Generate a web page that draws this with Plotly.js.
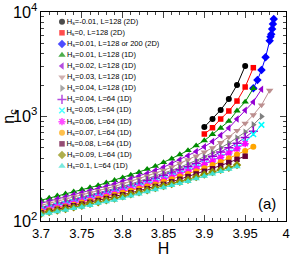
<!DOCTYPE html>
<html><head><meta charset="utf-8">
<script src="https://cdn.plot.ly/plotly-3.0.1.min.js"></script>
<style>html,body{margin:0;padding:0;background:#fff}</style>
</head><body><div id="chart" style="width:291px;height:257px"></div>
<script>
// H grids
const H_to394 = [3.70,3.71,3.72,3.73,3.74,3.75,3.76,3.77,3.78,3.79,3.80,3.81,3.82,3.83,3.84,3.85,3.86,3.87,3.88,3.89,3.90,3.91,3.92,3.93,3.94];
const H_to395 = [3.70,3.71,3.72,3.73,3.74,3.75,3.76,3.77,3.78,3.79,3.80,3.81,3.82,3.83,3.84,3.85,3.86,3.87,3.88,3.89,3.90,3.91,3.92,3.93,3.94,3.95];
const H_to396 = [3.70,3.71,3.72,3.73,3.74,3.75,3.76,3.77,3.78,3.79,3.80,3.81,3.82,3.83,3.84,3.85,3.86,3.87,3.88,3.89,3.90,3.91,3.92,3.93,3.94,3.95,3.96];
const H_to397 = [3.70,3.71,3.72,3.73,3.74,3.75,3.76,3.77,3.78,3.79,3.80,3.81,3.82,3.83,3.84,3.85,3.86,3.87,3.88,3.89,3.90,3.91,3.92,3.93,3.94,3.95,3.96,3.97];
const H_to398 = [3.70,3.71,3.72,3.73,3.74,3.75,3.76,3.77,3.78,3.79,3.80,3.81,3.82,3.83,3.84,3.85,3.86,3.87,3.88,3.89,3.90,3.91,3.92,3.93,3.94,3.95,3.96,3.97,3.98];
const H_black = [3.90,3.91,3.92,3.93,3.94,3.95];
const H_red = [3.90,3.91,3.92,3.93,3.94,3.95,3.96];
const H_blue = [3.96,3.965,3.97,3.975,3.98,3.981,3.982,3.983,3.984,3.985];

// n_c values
const n_black = [793,946,1153,1471,2002,3041];
const n_red = [680,781,946,1129,1406,1915,2931];
const n_blue = [1862,2234,2786,3684,5312,5803,6120,6874,7678,8570];
const n_green = [158,166,174,182,191,200,209,219,232,245,260,275,292,313,335,363,394,432,473,525,589,676,776,902,1135,1380,1862];
const n_violet = [148,155,162,170,178,186,195,204,214,226,240,254,269,285,305,327,355,385,422,462,513,575,661,776,944,1148,1380,1820];
const n_brown = [141,148,155,162,170,178,186,195,204,214,226,240,254,269,285,305,327,355,385,417,457,501,562,638,733,861,1035,1288,1778];
const n_grey = [135,141,148,155,162,170,178,186,195,204,214,226,240,254,269,285,305,327,351,380,412,452,501,556,624,708,832,1000];
const n_plus = [132,138,145,150,157,164,172,180,188,197,207,216,229,243,257,272,288,309,331,355,385,417,457,501,556,631,724];
const n_cyan = [129,133,140,145,151,158,164,172,180,188,197,207,216,226,240,254,269,285,305,327,351,380,412,452,501,569,676,832];
const n_magenta = [126,130,136,141,148,155,160,168,176,184,193,202,211,221,234,248,263,279,299,320,347,376,407,447,490,550];
const n_orange = [123,127,132,138,143,150,155,162,170,178,186,195,204,214,224,237,251,266,282,299,320,343,367,398,432,468,513];
const n_maroon = [120,124,129,135,140,145,151,157,164,172,178,186,195,204,214,224,237,251,266,282,299,316,339,363,389,417];
const n_olive = [117,122,126,130,135,140,146,151,158,164,172,180,188,197,207,216,226,237,248,263,279,295,309,324,343];
const n_turq = [115,119,123,127,132,136,141,148,153,158,166,174,182,191,200,209,219,229,240,254,269,282,299,313,331];

const labels = [
 'H<sub>s</sub>=-0.01, L=128 (2D)',
 'H<sub>s</sub>=0, L=128 (2D)',
 'H<sub>s</sub>=0.01, L=128 or 200 (2D)',
 'H<sub>s</sub>=0.01, L=128 (1D)',
 'H<sub>s</sub>=0.02, L=128 (1D)',
 'H<sub>s</sub>=0.03, L=128 (1D)',
 'H<sub>s</sub>=0.04, L=128 (1D)',
 'H<sub>s</sub>=0.04, L=64 (1D)',
 'H<sub>s</sub>=0.05, L=64 (1D)',
 'H<sub>s</sub>=0.06, L=64 (1D)',
 'H<sub>s</sub>=0.07, L=64 (1D)',
 'H<sub>s</sub>=0.08, L=64 (1D)',
 'H<sub>s</sub>=0.09, L=64 (1D)',
 'H<sub>s</sub>=0.1, L=64 (1D)'
];
const xs = [H_black,H_red,H_blue,H_to396,H_to397,H_to398,H_to397,H_to396,H_to397,H_to395,H_to396,H_to395,H_to394,H_to394];
const ys = [n_black,n_red,n_blue,n_green,n_violet,n_brown,n_grey,n_plus,n_cyan,n_magenta,n_orange,n_maroon,n_olive,n_turq];
const colors = ['#000000','#ff0000','#0000ff','#008b00','#9400d3','#bc8f8f','#808080','#9400d3','#00ffff','#ff00ff','#ffa500','#670038','#8b8b00','#40e0d0'];
const symbols = ['circle','square','diamond','triangle-up','triangle-left','triangle-down','triangle-right','cross-thin-open','x-thin-open','asterisk-open','circle','square','diamond','triangle-up'];
const sizes = [6,5.5,6.5,6.5,6.5,6.5,6.5,6.5,5.5,6,6,5.5,6.5,6.5];

const traces = [];
for (let i = 0; i < ys.length; i++) {
  const open = symbols[i].endsWith('-open');
  traces.push({
    x: xs[i], y: ys[i], type: 'scatter', mode: 'lines+markers', showlegend: false,
    line: {color: colors[i], width: 1},
    marker: {symbol: symbols[i], size: sizes[i], color: colors[i],
             line: {color: colors[i], width: open ? 1.5 : 0}},
    cliponaxis: true, hoverinfo: 'skip'
  });
}
// legend key built from the series lists
const keyIndex = labels.map((_, i) => i);
traces.push({
  x: labels.map(() => 0), y: keyIndex, xaxis: 'x2', yaxis: 'y2', type: 'scatter',
  mode: 'markers+text', showlegend: false, hoverinfo: 'skip', cliponaxis: false,
  text: labels, textposition: 'middle right',
  textfont: {family: 'Liberation Sans, Arial, sans-serif', size: 7.5, color: '#000'},
  marker: {symbol: symbols, size: sizes, color: colors,
           line: {color: colors, width: symbols.map(s => s.endsWith('-open') ? 1.5 : 0)}}
});

const layout = {
  width: 291, height: 257,
  margin: {l: 41, r: 5, t: 12, b: 36},
  paper_bgcolor: '#fff', plot_bgcolor: '#fff',
  font: {family: 'Liberation Sans, Arial, sans-serif', color: '#000'},
  showlegend: false,
  xaxis: {
    range: [3.7, 4], tick0: 3.7, dtick: 0.05, ticks: 'inside', ticklen: 6, tickwidth: 1,
    showline: true, linecolor: '#000', linewidth: 1, mirror: 'allticks',
    showgrid: false, zeroline: false, tickfont: {size: 13},
    minor: {dtick: 0.01, ticks: 'inside', ticklen: 3, tickwidth: 1, showgrid: false},
    title: {text: 'H', font: {size: 16}, standoff: 8}
  },
  yaxis: {
    type: 'log', range: [2, 4], dtick: 1, exponentformat: 'power',
    ticks: 'inside', ticklen: 6, tickwidth: 1,
    showline: true, linecolor: '#000', linewidth: 1, mirror: 'allticks',
    showgrid: false, zeroline: false, tickfont: {size: 13},
    minor: {dtick: 'D1', ticks: 'inside', ticklen: 3, tickwidth: 1, showgrid: false},
    title: {text: 'n<sub>c</sub>', font: {size: 16}, standoff: 6}
  },
  xaxis2: {overlaying: 'x', range: [-1, 10.67], visible: false},
  yaxis2: {overlaying: 'y', range: [17.95, -0.874], visible: false},
  annotations: [{
    xref: 'paper', yref: 'paper', x: 0.922, y: 0.086, text: '(a)', showarrow: false,
    font: {size: 15}, xanchor: 'center', yanchor: 'middle'
  }]
};
Plotly.newPlot('chart', traces, layout, {staticPlot: true, displayModeBar: false});
</script></body></html>
